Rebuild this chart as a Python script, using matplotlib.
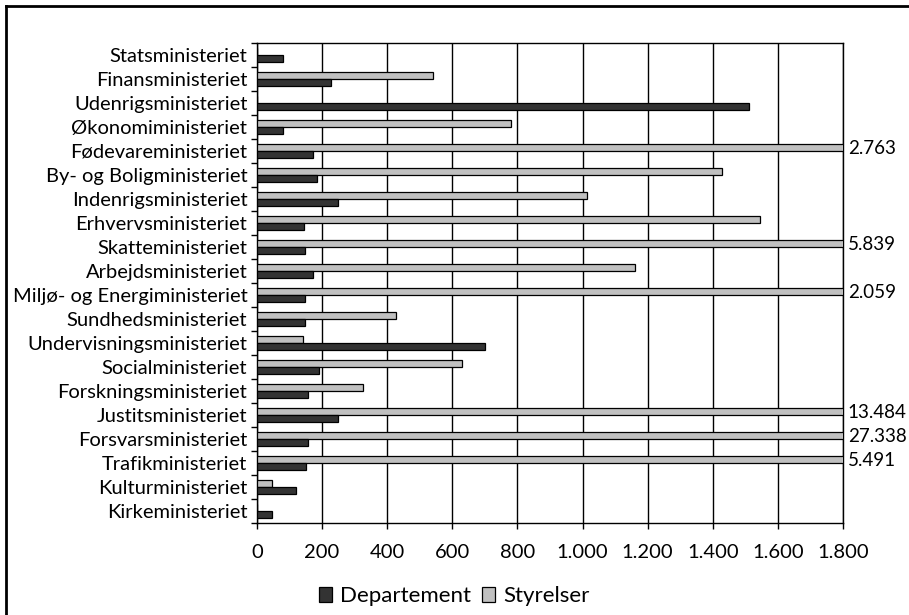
import numpy as np
import matplotlib
matplotlib.use("Agg")
import matplotlib.pyplot as plt
from matplotlib.lines import Line2D
from matplotlib.patches import Patch
from matplotlib.ticker import FuncFormatter, MultipleLocator

plt.rcParams["font.family"] = ["Lato", "DejaVu Sans"]

ministries = [
    "Statsministeriet", "Finansministeriet", "Udenrigsministeriet", "Økonomiministeriet",
    "Fødevareministeriet", "By- og Boligministeriet", "Indenrigsministeriet",
    "Erhvervsministeriet", "Skatteministeriet", "Arbejdsministeriet",
    "Miljø- og Energiministeriet", "Sundhedsministeriet", "Undervisningsministeriet",
    "Socialministeriet", "Forskningsministeriet", "Justitsministeriet",
    "Forsvarsministeriet", "Trafikministeriet", "Kulturministeriet", "Kirkeministeriet",
]
departement = [80, 226, 1510, 79, 173, 183, 249, 144, 148, 173,
               148, 148, 700, 191, 157, 249, 157, 152, 120, 45]
styrelser = [0, 540, 0, 779, 2763, 1427, 1014, 1546, 5839, 1162,
             2059, 427, 142, 631, 327, 13484, 27338, 5491, 45, 0]
x_max = 1800

DARK = "#333333"
LIGHT = "#c0c0c0"
FS = 14.5

fig = plt.figure(figsize=(9.09, 6.15), dpi=100)
ax = fig.add_axes([257 / 909, 92 / 615, 586 / 909, 480 / 615])

y = np.arange(len(ministries))
h = 0.3
ax.barh(y - h / 2, styrelser, height=h, color=LIGHT, edgecolor="black", lw=0.9, zorder=3)
ax.barh(y + h / 2, departement, height=h, color=DARK, edgecolor="black", lw=0.9, zorder=3)

# values beyond the axis are clipped and labelled at the right edge
for yi, v in zip(y, styrelser):
    if v > x_max:
        ax.annotate(f"{v:,}".replace(",", "."), (x_max, yi - h / 2), xytext=(3.5, -1),
                    textcoords="offset points", ha="left", va="center", fontsize=13.5,
                    annotation_clip=False)

ax.set_xlim(0, x_max)
ax.set_ylim(len(ministries) - 0.5, -0.5)
ax.xaxis.set_major_locator(MultipleLocator(200))
ax.xaxis.set_major_formatter(FuncFormatter(lambda v, p: f"{int(v):,}".replace(",", ".")))
ax.grid(axis="x", color="black", lw=1.0, zorder=1)

ax.set_yticks(y)
ax.set_yticklabels(ministries)
ax.set_yticks(np.arange(len(ministries) + 1) - 0.5, minor=True)
ax.tick_params(axis="y", which="major", length=0, pad=7, labelsize=FS)
ax.tick_params(axis="y", which="minor", length=4, width=1.0, direction="out")
ax.tick_params(axis="x", length=4, width=1.0, direction="out", pad=11, labelsize=FS)
for s in ax.spines.values():
    s.set_color("black")
    s.set_linewidth(1.0)

handles = [Patch(facecolor=DARK, edgecolor="black", lw=0.9, label="Departement"),
           Patch(facecolor=LIGHT, edgecolor="black", lw=0.9, label="Styrelser")]
fig.legend(handles=handles, loc="center", bbox_to_anchor=(454 / 909, 19 / 615), ncol=2,
           frameon=False, fontsize=16, handlelength=0.6, handleheight=0.65,
           handletextpad=0.35, columnspacing=0.5)

# outer frame (only its top and left edges fall inside the picture)
fig.add_artist(Line2D([6 / 909, 1.0], [1 - 6 / 615, 1 - 6 / 615], color="black", lw=2))
fig.add_artist(Line2D([6 / 909, 6 / 909], [0, 1 - 6 / 615], color="black", lw=2))

fig.savefig("out.png", dpi=100, facecolor="white")
